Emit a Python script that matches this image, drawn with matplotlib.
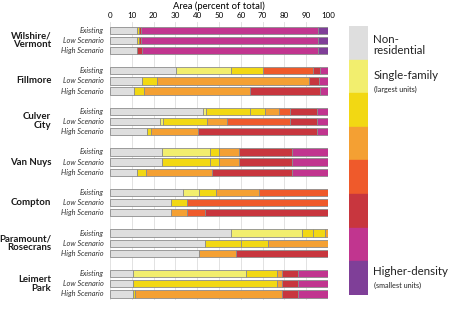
import matplotlib.pyplot as plt
import matplotlib.patches as mpatches

plt.rcParams['font.family'] = ['Lato', 'DejaVu Sans']

# land-use categories (legend order, top to bottom)
colors = ['#dedede', '#f2ee6e', '#f2d813', '#f4a033',
          '#ef5a2b', '#c8363e', '#c1358f', '#7f3f98']

groups = ['Wilshire/\nVermont', 'Fillmore', 'Culver\nCity', 'Van Nuys',
          'Compton', 'Paramount/\nRosecrans', 'Leimert\nPark']
scenarios = ['Existing', 'Low Scenario', 'High Scenario']

# each bar: (category of each segment, cumulative right edge in %)
wilshire = [
    ([0, 2, 5, 6, 7], [12.2, 13.4, 14.4, 95.3, 100]),
    ([0, 2, 5, 6, 7], [12.2, 13.4, 14.4, 95.3, 100]),
    ([0, 5, 6, 7], [12.2, 14.7, 95.3, 100]),
]
fillmore = [
    ([0, 1, 2, 4, 5, 6], [30.2, 55.4, 70.2, 93.1, 96.5, 100]),
    ([0, 2, 3, 5, 6], [14.8, 21.4, 91.3, 95.7, 100]),
    ([0, 2, 3, 5, 6], [11.0, 15.8, 64.1, 96.5, 100]),
]
culver = [
    ([0, 1, 2, 2, 3, 4, 5, 6], [42.7, 44.0, 64.1, 71.3, 77.6, 82.4, 95.0, 100]),
    ([0, 1, 2, 3, 4, 5, 6], [22.9, 24.4, 44.3, 53.7, 82.4, 95.0, 100]),
    ([0, 2, 3, 5, 6], [16.8, 18.6, 40.5, 95.0, 100]),
]
vannuys = [
    ([0, 1, 2, 3, 5, 6], [24.0, 46.1, 50.1, 59.1, 83.7, 100]),
    ([0, 2, 2, 3, 5, 6], [24.0, 46.1, 50.1, 59.1, 83.7, 100]),
    ([0, 2, 3, 5, 6], [12.2, 16.3, 46.9, 83.7, 100]),
]
compton = [
    ([0, 1, 2, 3, 4], [33.6, 40.8, 48.5, 68.2, 100]),
    ([0, 2, 4], [27.8, 35.4, 100]),
    ([0, 3, 4, 5], [27.8, 35.4, 43.7, 100]),
]
paramount = [
    ([0, 1, 2, 2, 3], [55.7, 88.2, 93.1, 98.5, 100]),
    ([0, 2, 2, 3], [43.8, 60.0, 72.5, 100]),
    ([0, 3, 5], [40.8, 57.7, 100]),
]
leimert = [
    ([0, 1, 2, 3, 5, 6], [10.4, 62.3, 76.8, 78.7, 86.1, 100]),
    ([0, 2, 3, 5, 6], [10.4, 76.8, 78.7, 86.1, 100]),
    ([0, 2, 3, 5, 6], [10.7, 11.5, 78.8, 86.1, 100]),
]
data = [wilshire, fillmore, culver, vannuys, compton, paramount, leimert]

fig = plt.figure(figsize=(4.5, 3.27), dpi=100)
ax = fig.add_axes([0.2444, 0.0826, 0.4844, 0.850])

for g, bars in enumerate(data):
    for r, (cats, ends) in enumerate(bars):
        y = g * 4 + r
        left = 0
        for c, e in zip(cats, ends):
            ax.barh(y, e - left, left=left, height=0.72, color=colors[c],
                    edgecolor='#8c8c8c', linewidth=0.6, zorder=3)
            left = e
        ax.text(-2.8, y, scenarios[r], ha='right', va='center', fontsize=5.3,
                style='italic', color='#333333')
    ax.text(-27, g * 4 + 1, groups[g], ha='right', va='center', fontsize=6.9,
            fontweight='bold', linespacing=1.0, color='#1a1a1a')

ax.set_xlim(0, 100)
ax.set_ylim(26.6, -0.8)
ax.set_xticks(range(0, 101, 10))
ax.xaxis.tick_top()
ax.xaxis.set_label_position('top')
ax.tick_params(axis='x', length=0, pad=2, labelsize=5.8)
ax.set_yticks([])
ax.set_xlabel('Area (percent of total)', fontsize=6.8, labelpad=2)
ax.grid(axis='x', color='#dddddd', linewidth=0.6, zorder=0)
for s in ax.spines.values():
    s.set_visible(False)

# legend as a stacked colour strip
lax = fig.add_axes([0.7756, 0.0979, 0.0422, 0.8226])
for i, c in enumerate(colors):
    lax.add_patch(mpatches.Rectangle((0, i), 1, 1, color=c))
lax.set_xlim(0, 1)
lax.set_ylim(len(colors), 0)
lax.axis('off')

fig.text(0.830, 0.862, 'Non-\nresidential', fontsize=8.3, va='center',
         linespacing=1.0, color='#222222')
fig.text(0.830, 0.768, 'Single-family', fontsize=8.3, va='center', color='#222222')
fig.text(0.830, 0.727, '(largest units)', fontsize=5.2, va='center', color='#222222')
fig.text(0.830, 0.170, 'Higher-density', fontsize=8.3, va='center', color='#222222')
fig.text(0.830, 0.128, '(smallest units)', fontsize=5.2, va='center', color='#222222')

fig.savefig('out.png', dpi=100)
